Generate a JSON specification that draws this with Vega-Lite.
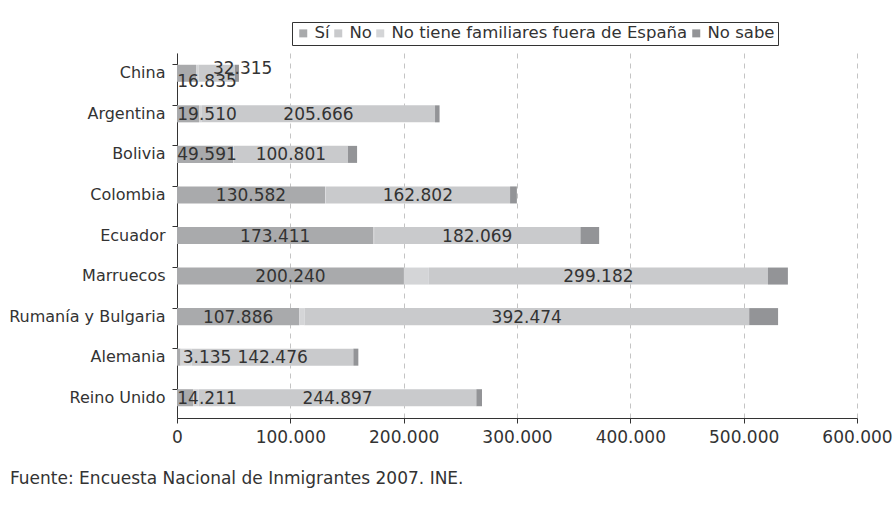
{
  "$schema": "https://vega.github.io/schema/vega-lite/v6.json",
  "width": 680,
  "height": 365,
  "autosize": "none",
  "padding": {"left": 177, "top": 53, "right": 37, "bottom": 94},
  "background": "white",
  "config": {
    "locale": {"number": {"decimal": ",", "thousands": ".", "grouping": [3], "currency": ["", " €"]}},
    "font": "DejaVu Sans",
    "view": {"stroke": null}
  },
  "title": {
    "text": "Fuente: Encuesta Nacional de Inmigrantes 2007. INE.",
    "orient": "bottom",
    "anchor": "start",
    "frame": "group",
    "dx": -167,
    "offset": 26,
    "fontSize": 17,
    "fontWeight": "normal",
    "color": "#333333",
    "font": "DejaVu Sans"
  },
  "data": {
    "values": [
      {"pais": "China", "respuesta": "Sí", "valor": 16835},
      {"pais": "China", "respuesta": "No", "valor": 32315},
      {"pais": "China", "respuesta": "No tiene familiares fuera de España", "valor": 2000},
      {"pais": "China", "respuesta": "No sabe", "valor": 3500},
      {"pais": "Argentina", "respuesta": "Sí", "valor": 19510},
      {"pais": "Argentina", "respuesta": "No", "valor": 205666},
      {"pais": "Argentina", "respuesta": "No tiene familiares fuera de España", "valor": 2500},
      {"pais": "Argentina", "respuesta": "No sabe", "valor": 4000},
      {"pais": "Bolivia", "respuesta": "Sí", "valor": 49591},
      {"pais": "Bolivia", "respuesta": "No", "valor": 100801},
      {"pais": "Bolivia", "respuesta": "No tiene familiares fuera de España", "valor": 500},
      {"pais": "Bolivia", "respuesta": "No sabe", "valor": 8000},
      {"pais": "Colombia", "respuesta": "Sí", "valor": 130582},
      {"pais": "Colombia", "respuesta": "No", "valor": 162802},
      {"pais": "Colombia", "respuesta": "No tiene familiares fuera de España", "valor": 500},
      {"pais": "Colombia", "respuesta": "No sabe", "valor": 6000},
      {"pais": "Ecuador", "respuesta": "Sí", "valor": 173411},
      {"pais": "Ecuador", "respuesta": "No", "valor": 182069},
      {"pais": "Ecuador", "respuesta": "No tiene familiares fuera de España", "valor": 500},
      {"pais": "Ecuador", "respuesta": "No sabe", "valor": 16500},
      {"pais": "Marruecos", "respuesta": "Sí", "valor": 200240},
      {"pais": "Marruecos", "respuesta": "No", "valor": 299182},
      {"pais": "Marruecos", "respuesta": "No tiene familiares fuera de España", "valor": 22000},
      {"pais": "Marruecos", "respuesta": "No sabe", "valor": 17600},
      {"pais": "Rumanía y Bulgaria", "respuesta": "Sí", "valor": 107886},
      {"pais": "Rumanía y Bulgaria", "respuesta": "No", "valor": 392474},
      {"pais": "Rumanía y Bulgaria", "respuesta": "No tiene familiares fuera de España", "valor": 4500},
      {"pais": "Rumanía y Bulgaria", "respuesta": "No sabe", "valor": 25500},
      {"pais": "Alemania", "respuesta": "Sí", "valor": 3135},
      {"pais": "Alemania", "respuesta": "No", "valor": 142476},
      {"pais": "Alemania", "respuesta": "No tiene familiares fuera de España", "valor": 10000},
      {"pais": "Alemania", "respuesta": "No sabe", "valor": 4400},
      {"pais": "Reino Unido", "respuesta": "Sí", "valor": 14211},
      {"pais": "Reino Unido", "respuesta": "No", "valor": 244897},
      {"pais": "Reino Unido", "respuesta": "No tiene familiares fuera de España", "valor": 5000},
      {"pais": "Reino Unido", "respuesta": "No sabe", "valor": 5000}
    ]
  },
  "transform": [
    {"calculate": "indexof(['Sí','No tiene familiares fuera de España','No','No sabe'], datum.respuesta)", "as": "orden"}
  ],
  "encoding": {
    "y": {
      "field": "pais",
      "type": "nominal",
      "sort": ["China", "Argentina", "Bolivia", "Colombia", "Ecuador", "Marruecos", "Rumanía y Bulgaria", "Alemania", "Reino Unido"],
      "scale": {"paddingInner": 0.58, "paddingOuter": 0.29},
      "axis": {
        "title": null,
        "bandPosition": 0,
        "domainColor": "#333333",
        "domainWidth": 1,
        "tickColor": "#333333",
        "tickSize": 5,
        "labelFontSize": 16,
        "labelColor": "#333333",
        "labelFont": "DejaVu Sans",
        "labelPadding": 7,
        "labelLimit": 0
      }
    }
  },
  "layer": [
    {
      "mark": {"type": "bar"},
      "encoding": {
        "x": {
          "field": "valor",
          "type": "quantitative",
          "stack": "zero",
          "scale": {"domain": [0, 600000], "nice": false},
          "axis": {
            "title": null,
            "values": [0, 100000, 200000, 300000, 400000, 500000, 600000],
            "format": ",d",
            "grid": true,
            "gridDash": [5, 5],
            "gridColor": "#c4c4c4",
            "gridWidth": 1,
            "domainColor": "#333333",
            "tickColor": "#333333",
            "tickSize": 5,
            "labelFontSize": 17,
            "labelColor": "#333333",
            "labelFont": "DejaVu Sans",
            "labelPadding": 6,
            "labelFlush": false,
            "labelOverlap": false
          }
        },
        "color": {
          "field": "respuesta",
          "type": "nominal",
          "scale": {
            "domain": ["Sí", "No", "No tiene familiares fuera de España", "No sabe"],
            "range": ["#a9aaac", "#c9cacc", "#d4d5d7", "#939497"]
          },
          "legend": {
            "orient": "none",
            "legendX": 115,
            "legendY": -31,
            "direction": "horizontal",
            "title": null,
            "symbolType": "square",
            "symbolSize": 64,
            "symbolStrokeWidth": 0,
            "labelFontSize": 16.5,
            "labelColor": "#333333",
            "labelFont": "DejaVu Sans",
            "labelOffset": 3,
            "labelLimit": 0,
            "columnPadding": 0,
            "padding": 3,
            "strokeColor": "#333333",
            "fillColor": "white"
          }
        },
        "order": {"field": "orden", "type": "quantitative"}
      }
    },
    {
      "transform": [
        {"stack": "valor", "groupby": ["pais"], "sort": [{"field": "orden"}], "as": ["v0", "v1"]},
        {"filter": "(datum.respuesta === 'Sí' || datum.respuesta === 'No') && datum.pais !== 'China'"},
        {"calculate": "max((datum.v0 + datum.v1) / 2, 26500)", "as": "mid"}
      ],
      "mark": {"type": "text", "fontSize": 17, "fill": "#333333", "align": "center", "baseline": "middle", "dy": 1, "font": "DejaVu Sans"},
      "encoding": {
        "x": {"field": "mid", "type": "quantitative"},
        "text": {"field": "valor", "type": "quantitative", "format": ",d"}
      }
    },
    {
      "transform": [
        {"stack": "valor", "groupby": ["pais"], "sort": [{"field": "orden"}], "as": ["v0", "v1"]},
        {"filter": "datum.respuesta === 'Sí' && datum.pais === 'China'"},
        {"calculate": "max((datum.v0 + datum.v1) / 2, 26500)", "as": "mid"}
      ],
      "mark": {"type": "text", "fontSize": 17, "fill": "#333333", "align": "center", "baseline": "middle", "dy": 9, "font": "DejaVu Sans"},
      "encoding": {
        "x": {"field": "mid", "type": "quantitative"},
        "text": {"field": "valor", "type": "quantitative", "format": ",d"}
      }
    },
    {
      "transform": [
        {"stack": "valor", "groupby": ["pais"], "sort": [{"field": "orden"}], "as": ["v0", "v1"]},
        {"filter": "datum.respuesta === 'No' && datum.pais === 'China'"},
        {"calculate": "(datum.v0 + datum.v1) / 2", "as": "mid"}
      ],
      "mark": {"type": "text", "fontSize": 17, "fill": "#333333", "align": "center", "baseline": "middle", "dy": -4, "dx": 26, "font": "DejaVu Sans"},
      "encoding": {
        "x": {"field": "mid", "type": "quantitative"},
        "text": {"field": "valor", "type": "quantitative", "format": ",d"}
      }
    }
  ]
}
